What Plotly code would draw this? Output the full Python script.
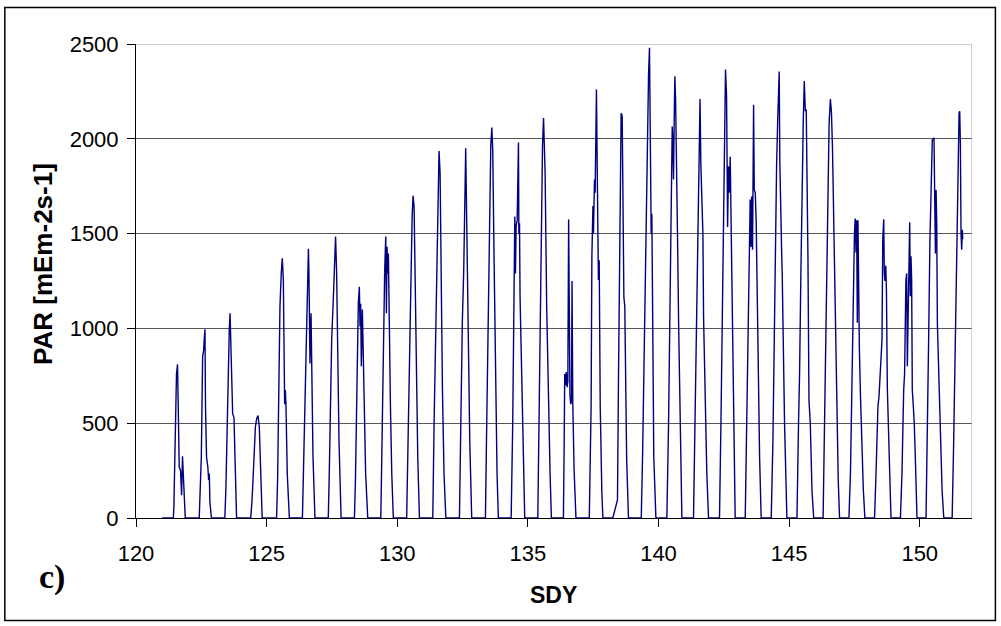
import plotly.graph_objects as go

# ---- data: PAR readings per day (SDY fraction within day, PAR value) ----
d121_t = [0.00, 0.43, 0.45, 0.50, 0.55, 0.59, 0.62, 0.655, 0.705, 0.745, 0.78, 0.81, 0.845, 0.885]
d121_v = [0, 0, 60, 410, 760, 810, 500, 270, 250, 120, 325, 235, 60, 0]
d122_t = [0.42, 0.46, 0.50, 0.55, 0.59, 0.61, 0.64, 0.66, 0.70, 0.75, 0.78, 0.805, 0.83, 0.89]
d122_v = [0, 150, 320, 850, 886, 940, 995, 590, 320, 270, 200, 235, 80, 0]
d123_t = [0.40, 0.44, 0.48, 0.53, 0.57, 0.60, 0.62, 0.66, 0.70, 0.75, 0.80, 0.85]
d123_v = [0, 150, 410, 870, 990, 1080, 940, 670, 550, 530, 235, 0]
d124_t = [0.39, 0.44, 0.49, 0.57, 0.62, 0.67, 0.72, 0.77, 0.83]
d124_v = [0, 90, 235, 480, 525, 540, 480, 235, 0]
d125_t = [0.38, 0.42, 0.45, 0.51, 0.56, 0.60, 0.64, 0.665, 0.69, 0.715, 0.74, 0.79, 0.87]
d125_v = [0, 200, 500, 1115, 1290, 1370, 1255, 730, 600, 675, 600, 235, 0]
d126_t = [0.37, 0.40, 0.44, 0.52, 0.55, 0.60, 0.62, 0.66, 0.70, 0.72, 0.775, 0.85]
d126_v = [0, 200, 500, 1025, 1200, 1420, 1290, 815, 1080, 835, 320, 0]
d127_t = [0.36, 0.40, 0.44, 0.49, 0.57, 0.605, 0.64, 0.68, 0.72, 0.77, 0.85]
d127_v = [0, 250, 585, 940, 1220, 1380, 1485, 1290, 940, 410, 0]
d128_t = [0.36, 0.40, 0.435, 0.485, 0.51, 0.55, 0.575, 0.60, 0.625, 0.665, 0.70, 0.74, 0.79, 0.87]
d128_v = [0, 200, 500, 990, 1130, 1220, 1010, 1130, 800, 1100, 885, 585, 235, 0]
d129_t = [0.37, 0.40, 0.43, 0.48, 0.52, 0.56, 0.585, 0.61, 0.635, 0.66, 0.69, 0.74, 0.79, 0.85]
d129_v = [0, 250, 585, 1115, 1310, 1485, 1080, 1430, 1290, 1395, 940, 585, 235, 0]
d130_t = [0.36, 0.39, 0.43, 0.49, 0.53, 0.57, 0.605, 0.645, 0.68, 0.73, 0.785, 0.85]
d130_v = [0, 250, 585, 1165, 1290, 1590, 1700, 1640, 1290, 760, 320, 0]
d131_t = [0.36, 0.41, 0.47, 0.54, 0.575, 0.60, 0.64, 0.68, 0.73, 0.79, 0.86]
d131_v = [0, 500, 1025, 1555, 1820, 1935, 1820, 1290, 675, 235, 0]
d132_t = [0.38, 0.43, 0.49, 0.545, 0.585, 0.62, 0.66, 0.71, 0.775, 0.85]
d132_v = [0, 500, 1025, 1310, 1645, 1950, 1555, 940, 410, 0]
d133_t = [0.375, 0.425, 0.49, 0.54, 0.58, 0.62, 0.655, 0.705, 0.77, 0.82, 0.87]
d133_v = [0, 500, 1115, 1645, 1960, 2060, 1940, 1380, 675, 235, 0]
d134_t = [0.36, 0.42, 0.47, 0.50, 0.525, 0.55, 0.59, 0.615, 0.64, 0.655, 0.68, 0.70, 0.74, 0.79, 0.88]
d134_v = [0, 500, 1290, 1590, 1290, 1540, 1570, 1750, 1980, 1500, 1555, 1170, 940, 500, 0]
d135_t = [0.38, 0.43, 0.48, 0.52, 0.56, 0.60, 0.62, 0.66, 0.72, 0.80, 0.85, 0.90]
d135_v = [0, 585, 1290, 1680, 1960, 2110, 2030, 1820, 1115, 500, 235, 0]
d136_t = [0.36, 0.39, 0.41, 0.44, 0.47, 0.50, 0.53, 0.56, 0.585, 0.61, 0.64, 0.67, 0.69, 0.72, 0.77, 0.84]
d136_v = [0, 400, 760, 700, 770, 690, 720, 1575, 1100, 650, 600, 620, 1250, 600, 250, 0]
d137_t = [0.35, 0.42, 0.45, 0.49, 0.51, 0.55, 0.575, 0.60, 0.625, 0.65, 0.68, 0.70, 0.73, 0.77, 0.83, 0.87]
d137_v = [0, 585, 1380, 1645, 1500, 1785, 1715, 2205, 2260, 1905, 1465, 1255, 1360, 585, 145, 0]
d138_t = [0.25, 0.43, 0.47, 0.51, 0.535, 0.57, 0.61, 0.65, 0.675, 0.71, 0.74, 0.78, 0.85]
d138_v = [0, 95, 760, 1290, 1800, 2135, 2120, 1645, 1165, 1115, 760, 320, 0]
d139_t = [0.34, 0.39, 0.44, 0.49, 0.54, 0.58, 0.62, 0.655, 0.695, 0.72, 0.745, 0.77, 0.82, 0.90]
d139_v = [0, 320, 760, 1290, 1605, 1995, 2345, 2480, 1995, 1500, 1605, 940, 320, 0]
d140_t = [0.32, 0.385, 0.435, 0.49, 0.525, 0.55, 0.575, 0.60, 0.625, 0.655, 0.69, 0.73, 0.77, 0.82, 0.895]
d140_v = [0, 500, 1115, 1645, 2065, 1995, 1785, 2085, 2330, 2205, 1940, 1465, 1025, 500, 0]
d141_t = [0.34, 0.405, 0.47, 0.52, 0.555, 0.59, 0.62, 0.66, 0.685, 0.70, 0.725, 0.775, 0.85, 0.915]
d141_v = [0, 585, 1290, 1700, 2000, 2210, 1870, 1620, 1560, 1500, 1060, 690, 235, 0]
d142_t = [0.335, 0.39, 0.44, 0.49, 0.53, 0.565, 0.605, 0.645, 0.68, 0.72, 0.745, 0.785, 0.825, 0.875, 0.935]
d142_v = [0, 500, 1115, 1730, 2205, 2365, 2225, 1535, 1855, 1715, 1905, 1465, 940, 410, 0]
d143_t = [0.32, 0.385, 0.45, 0.485, 0.51, 0.54, 0.565, 0.60, 0.64, 0.665, 0.705, 0.74, 0.77, 0.805, 0.87, 0.93]
d143_v = [0, 585, 1290, 1485, 1680, 1430, 1695, 1415, 2180, 1730, 1715, 1555, 1290, 760, 320, 0]
d144_t = [0.315, 0.38, 0.43, 0.48, 0.52, 0.56, 0.595, 0.62, 0.645, 0.675, 0.71, 0.735, 0.775, 0.825, 0.915]
d144_v = [0, 410, 940, 1555, 1855, 2085, 2345, 2355, 1870, 1520, 1430, 1290, 940, 500, 0]
d145_t = [0.30, 0.36, 0.40, 0.45, 0.50, 0.54, 0.58, 0.62, 0.655, 0.68, 0.72, 0.76, 0.81, 0.875, 0.94]
d145_v = [0, 500, 760, 1290, 1820, 2085, 2305, 2145, 2155, 1905, 1380, 620, 500, 145, 0]
d146_t = [0.30, 0.35, 0.40, 0.45, 0.49, 0.53, 0.58, 0.62, 0.66, 0.70, 0.74, 0.77, 0.82, 0.88, 0.93]
d146_v = [0, 410, 850, 1255, 1800, 2080, 2210, 2140, 1950, 1600, 1470, 1000, 550, 200, 0]
d147_t = [0.29, 0.35, 0.40, 0.44, 0.47, 0.50, 0.53, 0.56, 0.585, 0.61, 0.635, 0.66, 0.69, 0.73, 0.78, 0.84, 0.90]
d147_v = [0, 250, 700, 1200, 1430, 1500, 1580, 1400, 1570, 1030, 1570, 1200, 885, 650, 420, 150, 0]
d148_t = [0.27, 0.33, 0.37, 0.40, 0.44, 0.48, 0.52, 0.555, 0.585, 0.62, 0.645, 0.67, 0.70, 0.725, 0.76, 0.81, 0.86, 0.90]
d148_v = [0, 250, 480, 590, 640, 760, 850, 940, 1470, 1575, 1290, 1250, 1330, 1200, 680, 410, 120, 0]
d149_t = [0.26, 0.32, 0.385, 0.42, 0.47, 0.50, 0.525, 0.55, 0.575, 0.60, 0.615, 0.64, 0.665, 0.69, 0.715, 0.755, 0.79, 0.83, 0.895]
d149_v = [0, 235, 675, 760, 1255, 1290, 800, 1080, 1275, 1540, 1560, 1170, 1380, 1255, 675, 585, 500, 320, 0]
d150_t = [0.24, 0.29, 0.34, 0.39, 0.445, 0.48, 0.52, 0.545, 0.57, 0.60, 0.625, 0.65, 0.675, 0.725, 0.79, 0.855, 0.92]
d150_v = [0, 410, 940, 1465, 1820, 1995, 2000, 2005, 1730, 1395, 1730, 1555, 1025, 760, 410, 145, 0]
d151_t = [0.24, 0.30, 0.365, 0.40, 0.44, 0.48, 0.505, 0.53, 0.555, 0.58, 0.605, 0.63, 0.645]
d151_v = [0, 410, 940, 1380, 1555, 1905, 2135, 2145, 1975, 1500, 1415, 1520, 1470]

days = {
    121: (d121_t, d121_v), 122: (d122_t, d122_v), 123: (d123_t, d123_v),
    124: (d124_t, d124_v), 125: (d125_t, d125_v), 126: (d126_t, d126_v),
    127: (d127_t, d127_v), 128: (d128_t, d128_v), 129: (d129_t, d129_v),
    130: (d130_t, d130_v), 131: (d131_t, d131_v), 132: (d132_t, d132_v),
    133: (d133_t, d133_v), 134: (d134_t, d134_v), 135: (d135_t, d135_v),
    136: (d136_t, d136_v), 137: (d137_t, d137_v), 138: (d138_t, d138_v),
    139: (d139_t, d139_v), 140: (d140_t, d140_v), 141: (d141_t, d141_v),
    142: (d142_t, d142_v), 143: (d143_t, d143_v), 144: (d144_t, d144_v),
    145: (d145_t, d145_v), 146: (d146_t, d146_v), 147: (d147_t, d147_v),
    148: (d148_t, d148_v), 149: (d149_t, d149_v), 150: (d150_t, d150_v),
    151: (d151_t, d151_v),
}

x_ticks = [120, 125, 130, 135, 140, 145, 150]
y_ticks = [0, 500, 1000, 1500, 2000, 2500]

sdy, par = [], []
for d in sorted(days):
    t, v = days[d]
    sdy += [d + f for f in t]
    par += v

fig = go.Figure()
fig.add_trace(go.Scatter(x=sdy, y=par, mode="lines",
                         line=dict(color="#000080", width=1.4),
                         showlegend=False, hoverinfo="skip"))

FONT = "Liberation Sans, Arial, sans-serif"
fig.update_layout(
    width=1001, height=626,
    margin=dict(l=136, r=29, t=44, b=108),
    paper_bgcolor="white", plot_bgcolor="white",
    font=dict(family=FONT, color="black"),
    xaxis=dict(range=[120, 152], tickvals=x_ticks, ticks="outside", ticklen=8,
               tickcolor="black", showline=True, linecolor="black", linewidth=1,
               showgrid=False, zeroline=False, tickfont=dict(size=22, family=FONT),
               ticklabelstandoff=8),
    yaxis=dict(range=[0, 2500], tickvals=y_ticks, ticks="outside", ticklen=8,
               tickcolor="black", showline=True, linecolor="black", linewidth=1,
               showgrid=True, gridcolor="#555555", gridwidth=1, zeroline=False,
               tickfont=dict(size=22, family=FONT), ticklabelstandoff=4),
    shapes=[
        dict(type="line", xref="x", yref="y", x0=120, x1=152, y0=2500, y1=2500,
             line=dict(color="#a0a0a0", width=1)),
        dict(type="line", xref="x", yref="y", x0=152, x1=152, y0=0, y1=2500,
             line=dict(color="#a0a0a0", width=1)),
        dict(type="rect", xref="paper", yref="paper", x0=-0.1569, x1=1.028,
             y0=-0.2162, y1=1.0771, line=dict(color="black", width=1.5)),
    ],
    annotations=[
        dict(text="<b>PAR [mEm-2s-1]</b>", xref="paper", yref="paper",
             x=-0.1106, y=0.535, textangle=-90, showarrow=False,
             font=dict(size=26, family=FONT), xanchor="center", yanchor="middle"),
        dict(text="<b>SDY</b>", xref="paper", yref="paper", x=0.4995, y=-0.163,
             showarrow=False, font=dict(size=23, family=FONT),
             xanchor="center", yanchor="middle"),
        dict(text="<b>c)</b>", xref="paper", yref="paper", x=-0.1005, y=-0.1245,
             showarrow=False, font=dict(size=34, family="Liberation Serif, Times New Roman, serif"),
             xanchor="center", yanchor="middle"),
    ],
)

fig.write_html("out.html", config={"displayModeBar": False},
               post_script="document.body.style.margin='0';")
